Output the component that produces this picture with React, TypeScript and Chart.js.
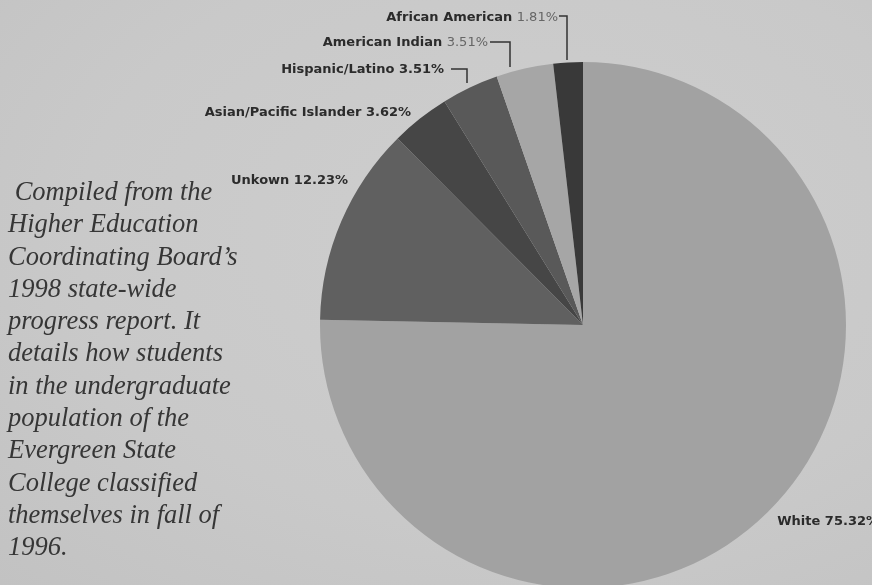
import React, { useEffect, useRef } from "react";
import { Chart, registerables } from "chart.js";

Chart.register(...registerables);

const categories = [
  "White",
  "Unkown",
  "Asian/Pacific Islander",
  "Hispanic/Latino",
  "American Indian",
  "African American",
];
const percentages = [75.32, 12.23, 3.62, 3.51, 3.51, 1.81];
const sliceColors = ["#a2a2a2", "#606060", "#464646", "#595959", "#a6a6a6", "#393939"];
const captionLines = [
  " Compiled from the",
  "Higher Education",
  "Coordinating Board\u2019s",
  "1998 state-wide",
  "progress report. It",
  "details how students",
  "in the undergraduate",
  "population of the",
  "Evergreen State",
  "College classified",
  "themselves in fall of",
  "1996.",
];

const labelPlugin = {
  id: "labels",
  afterDatasetsDraw(chart: any) {
    const ctx = chart.ctx as CanvasRenderingContext2D;
    const meta = chart.getDatasetMeta(0);
    const arc = meta.data[0];
    const cx = arc.x;
    const cy = arc.y;
    const r = arc.outerRadius;
    ctx.save();
    ctx.textBaseline = "middle";
    const bold = "bold 13px 'DejaVu Sans', Verdana, sans-serif";
    const normal = "13px 'DejaVu Sans', Verdana, sans-serif";
    const drawLabel = (
      idx: number,
      rightX: number,
      y: number,
      lightPct: boolean
    ) => {
      const name = categories[idx] + " ";
      const pct = percentages[idx].toFixed(2) + "%";
      ctx.font = lightPct ? normal : bold;
      const wp = ctx.measureText(pct).width;
      ctx.font = bold;
      const wn = ctx.measureText(name).width;
      const x0 = rightX - wp - wn;
      ctx.textAlign = "left";
      ctx.fillStyle = "#2b2b2b";
      ctx.font = bold;
      ctx.fillText(name, x0, y);
      ctx.font = lightPct ? normal : bold;
      ctx.fillStyle = lightPct ? "#666666" : "#2b2b2b";
      ctx.fillText(pct, x0 + wn, y);
    };
    ctx.strokeStyle = "#333";
    ctx.lineWidth = 1.5;
    const leader = (x1: number, y1: number, x2: number, yEnd: number) => {
      ctx.beginPath();
      ctx.moveTo(x1, y1);
      ctx.lineTo(x2, y1);
      ctx.lineTo(x2, yEnd);
      ctx.stroke();
    };
    drawLabel(5, cx - 25, cy - 307, true);
    leader(cx - 24, cy - 309, cx - 16, cy - r - 2);
    drawLabel(4, cx - 95, cy - 282, true);
    leader(cx - 93, cy - 283, cx - 73, cy - r + 5);
    drawLabel(3, cx - 139, cy - 255, false);
    leader(cx - 132, cy - 256, cx - 116, cy - 242);
    drawLabel(2, cx - 172, cy - 212, false);
    drawLabel(1, cx - 235, cy - 144, false);
    drawLabel(0, cx + 296, cy + 197, false);

    ctx.font = "italic 26.5px 'Liberation Serif', 'Times New Roman', serif";
    ctx.fillStyle = "#363636";
    ctx.textAlign = "left";
    captionLines.forEach((line, i) => {
      ctx.fillText(line, 8, 193 + i * 32.3);
    });
    ctx.restore();
  },
};

export default function App() {
  const ref = useRef<HTMLCanvasElement | null>(null);
  useEffect(() => {
    if (!ref.current) return;
    const chart = new Chart(ref.current, {
      type: "pie",
      data: {
        labels: categories,
        datasets: [
          {
            data: percentages,
            backgroundColor: sliceColors,
            borderWidth: 0,
          },
        ],
      },
      options: {
        animation: false,
        responsive: false,
        devicePixelRatio: 1,
        layout: { padding: { left: 320, right: 26, top: 62, bottom: 12 } },
        plugins: {
          legend: { display: false },
          tooltip: { enabled: false },
          title: { display: false },
        },
      },
      plugins: [labelPlugin],
    });
    return () => chart.destroy();
  }, []);
  return (
    <div
      style={{
        position: "fixed",
        left: 0,
        top: 0,
        width: 872,
        height: 585,
        overflow: "hidden",
        background: "radial-gradient(ellipse at 60% 40%, #cecece 0%, #c9c9c9 60%, #c2c2c2 100%)",
      }}
    >
      <canvas ref={ref} width={872} height={600} style={{ display: "block" }} />
    </div>
  );
}
